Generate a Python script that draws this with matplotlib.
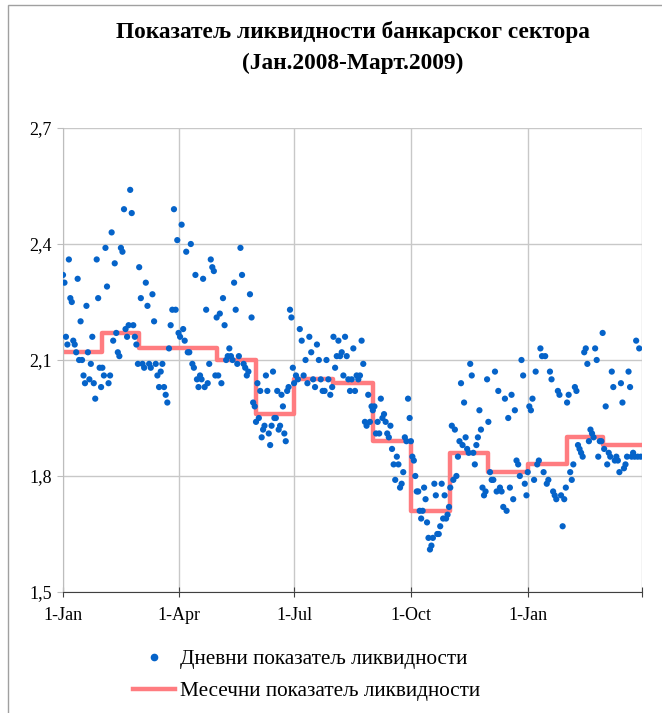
import numpy as np
import pandas as pd
import matplotlib
matplotlib.use('Agg')
from matplotlib import pyplot as plt
from matplotlib import dates as mdates
from matplotlib.ticker import FuncFormatter, FixedLocator
from matplotlib.lines import Line2D
from matplotlib.patches import Rectangle

plt.rcParams['font.family'] = ['Liberation Serif', 'DejaVu Serif']

# месеци (почетак месеца)
months = pd.date_range('2008-01-01', '2009-03-01', freq='MS')

# месечни показатељ ликвидности
monthly = [2.12, 2.17, 2.13, 2.13, 2.10, 1.96, 2.05, 2.04, 1.89, 1.71, 1.86, 1.81, 1.83, 1.90, 1.88]

# дневни показатељ, по месецима
jan08 = [2.32, 2.30, 2.16, 2.14, 2.36, 2.26, 2.25, 2.15, 2.14, 2.12, 2.31, 2.10, 2.20, 2.10,
         2.06, 2.04, 2.24, 2.12, 2.05, 2.09, 2.16, 2.04, 2.00, 2.36, 2.26, 2.08, 2.03]
feb08 = [2.08, 2.06, 2.39, 2.29, 2.04, 2.06, 2.43, 2.15, 2.35, 2.17, 2.12, 2.11, 2.39, 2.38,
         2.49, 2.18, 2.16, 2.19, 2.54, 2.48, 2.19, 2.16, 2.14, 2.09]
mar08 = [2.34, 2.26, 2.09, 2.08, 2.30, 2.24, 2.09, 2.08, 2.27, 2.20, 2.09, 2.06, 2.03, 2.07,
         2.09, 2.03, 2.01, 1.99, 2.13, 2.19, 2.23, 2.49, 2.23, 2.41]
apr08 = [2.17, 2.16, 2.45, 2.18, 2.15, 2.38, 2.12, 2.12, 2.40, 2.09, 2.08, 2.32, 2.05, 2.03,
         2.06, 2.05, 2.31, 2.03, 2.23, 2.04, 2.09, 2.36, 2.34, 2.33, 2.06]
may08 = [2.21, 2.06, 2.22, 2.04, 2.26, 2.19, 2.10, 2.11, 2.13, 2.11, 2.10, 2.30, 2.23, 2.09,
         2.11, 2.39, 2.32, 2.09, 2.08, 2.06, 2.07, 2.27, 2.21, 1.99, 1.98]
jun08 = [1.94, 2.04, 1.95, 2.02, 1.90, 1.92, 1.93, 2.06, 2.02, 1.91, 1.88, 1.93, 2.07, 1.95,
         1.95, 2.02, 1.92, 1.93, 2.01, 1.98, 1.91, 1.89, 2.02, 2.03, 2.23, 2.21, 2.08]
jul08 = [2.04, 2.06, 2.05, 2.18, 2.15, 2.06, 2.10, 2.04, 2.16, 2.12, 2.05, 2.03, 2.14, 2.10,
         2.05, 2.02, 2.02, 2.10, 2.05, 2.01, 2.03]
aug08 = [2.16, 2.08, 2.11, 2.15, 2.11, 2.12, 2.06, 2.16, 2.11, 2.05, 2.02, 2.05, 2.13, 2.02,
         2.06, 2.05, 2.06, 2.15, 2.09, 1.94, 1.93, 2.01, 1.94, 1.98]
sep08 = [1.97, 1.98, 1.91, 1.94, 1.91, 2.00, 1.95, 1.96, 1.94, 1.91, 1.90, 1.93, 1.87, 1.83,
         1.79, 1.85, 1.83, 1.77, 1.78, 1.81, 1.90, 1.89, 2.00, 1.95]
oct08 = [1.89, 1.85, 1.84, 1.80, 1.76, 1.76, 1.71, 1.69, 1.71, 1.77, 1.74, 1.68, 1.64, 1.61,
         1.62, 1.64, 1.78, 1.75, 1.65, 1.65, 1.67, 1.78, 1.69, 1.75, 1.69, 1.70, 1.72]
nov08 = [1.77, 1.93, 1.79, 1.92, 1.80, 1.85, 1.89, 2.04, 1.88, 1.99, 1.90, 1.87, 1.86, 2.09,
         2.06, 1.86, 1.83, 1.88, 1.90, 1.97, 1.92, 1.77, 1.75, 1.76, 2.05]
dec08 = [1.94, 1.81, 1.79, 1.79, 2.07, 1.76, 2.02, 1.77, 1.76, 1.72, 2.00, 1.71, 1.95, 1.77,
         2.01, 1.74, 1.97, 1.84, 1.83, 1.80, 2.10, 2.06, 1.78, 1.75]
jan09 = [1.81, 1.98, 1.97, 2.00, 1.79, 2.07, 1.83, 1.84, 2.13, 2.11, 1.81, 2.11, 1.78, 1.79,
         2.07, 2.05, 1.76, 1.75, 1.74, 2.02, 2.01, 1.75, 1.67, 1.74, 1.77]
feb09 = [1.99, 2.01, 1.81, 1.79, 1.83, 2.03, 2.02, 1.88, 1.87, 1.86, 1.85, 2.12, 2.13, 2.09,
         1.89, 1.92, 1.91, 1.90, 2.13, 2.10, 1.85, 1.89, 1.89]
mar09 = [2.17, 1.87, 1.98, 1.83, 1.86, 1.85, 2.07, 2.03, 1.84, 1.85, 1.84, 1.81, 2.04, 1.99,
         1.82, 1.83, 1.85, 2.07, 2.03, 1.85, 1.86, 1.85, 2.15, 1.85, 2.13, 1.85]

daily = [jan08, feb08, mar08, apr08, may08, jun08, jul08, aug08, sep08, oct08,
         nov08, dec08, jan09, feb09, mar09]

x_ticks = ['2008-01-01', '2008-04-01', '2008-07-01', '2008-10-01', '2009-01-01', '2009-04-01']
x_labels = ['1-Jan', '1-Apr', '1-Jul', '1-Oct', '1-Jan', '']
y_ticks = [1.5, 1.8, 2.1, 2.4, 2.7]

# датуми за дневне тачке: равномерно кроз месец
d_dates, d_vals = [], []
for m, vals in zip(months, daily):
    end = m + pd.offsets.MonthEnd(0)
    d_dates.extend(pd.date_range(m, end, periods=len(vals)))
    d_vals.extend(vals)

step_x = list(months) + [pd.Timestamp('2009-04-01')]
step_y = monthly + [monthly[-1]]

fig = plt.figure(figsize=(6.62, 7.13), dpi=100)
ax = fig.add_axes([63 / 662, 1 - 592 / 713, 579 / 662, 464 / 713])

ax.scatter(d_dates, d_vals, s=20, color='#0563C9', edgecolors='none', zorder=3)
ax.step(step_x, step_y, where='post', color='#FF7C80', lw=3.2, zorder=2)

ax.set_xlim(pd.Timestamp('2008-01-01'), pd.Timestamp('2009-04-01'))
ax.set_ylim(1.5, 2.7)
ax.xaxis.set_major_locator(FixedLocator(mdates.date2num(pd.to_datetime(x_ticks))))
ax.set_xticklabels(x_labels)
ax.set_yticks(y_ticks)
ax.yaxis.set_major_formatter(FuncFormatter(lambda v, p: f'{v:.1f}'.replace('.', ',')))

ax.grid(True, color='#C8C8C8', lw=1)
ax.set_axisbelow(True)
for s in ['top', 'right']:
    ax.spines[s].set_visible(False)
ax.spines['left'].set_color('#BDBDBD')
ax.spines['bottom'].set_color('#404040')
ax.tick_params(axis='x', direction='inout', length=7, color='#404040', labelsize=13, pad=7)
ax.tick_params(axis='y', length=4, color='#BDBDBD', labelsize=13, pad=4)

fig.text(353 / 662, 1 - 32 / 713, 'Показатељ ликвидности банкарског сектора',
         ha='center', va='center', fontsize=16.8, fontweight='bold')
fig.text(353 / 662, 1 - 63 / 713, '(Јан.2008-Март.2009)',
         ha='center', va='center', fontsize=16.8, fontweight='bold')

handles = [Line2D([], [], ls='none', marker='o', ms=4.5, color='#0563C9'),
           Line2D([], [], color='#FF7C80', lw=3.2)]
fig.legend(handles, ['Дневни показатељ ликвидности', 'Месечни показатељ ликвидности'],
           loc='upper left', bbox_to_anchor=(124 / 662, 1 - 641 / 713), frameon=False,
           fontsize=15.3, handlelength=2.0, handletextpad=0.25, labelspacing=0.55,
           borderaxespad=0)

fig.patches.append(Rectangle((8 / 662, -0.01), 1.0, 1 - 5 / 713 + 0.01,
                             transform=fig.transFigure, fill=False, ec='#A0A0A0', lw=1))

fig.savefig('out.png', dpi=100)
